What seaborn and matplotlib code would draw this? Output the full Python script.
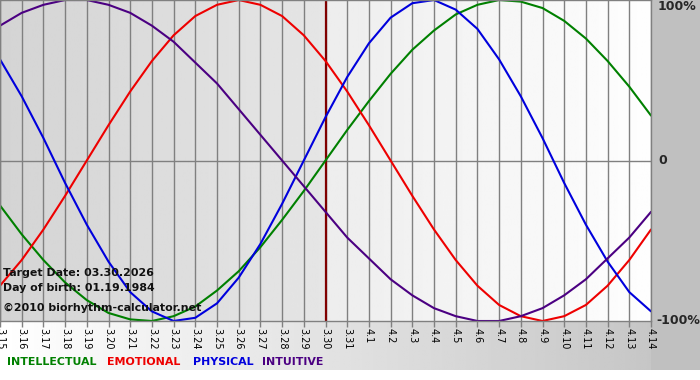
import numpy as np
import pandas as pd
import seaborn as sns
import matplotlib.pyplot as plt
import matplotlib.transforms as mtransforms

# day labels along the bottom axis
days = ["3.15", "3.16", "3.17", "3.18", "3.19", "3.20", "3.21", "3.22", "3.23", "3.24",
        "3.25", "3.26", "3.27", "3.28", "3.29", "3.30", "3.31", "4.1", "4.2", "4.3",
        "4.4", "4.5", "4.6", "4.7", "4.8", "4.9", "4.10", "4.11", "4.12", "4.13", "4.14"]

# cycle values (-1 .. 1), one per day
intellectual = [-0.28, -0.46, -0.62, -0.76, -0.87, -0.95, -0.99, -1.00, -0.97, -0.91,
                -0.81, -0.69, -0.54, -0.37, -0.19, 0.00, 0.19, 0.37, 0.54, 0.69,
                0.81, 0.91, 0.97, 1.00, 0.99, 0.95, 0.87, 0.76, 0.62, 0.46, 0.28]
emotional = [-0.78, -0.62, -0.43, -0.22, 0.00, 0.22, 0.43, 0.62, 0.78, 0.90,
             0.97, 1.00, 0.97, 0.90, 0.78, 0.62, 0.43, 0.22, 0.00, -0.22,
             -0.43, -0.62, -0.78, -0.90, -0.97, -1.00, -0.97, -0.90, -0.78, -0.62, -0.43]
physical = [0.63, 0.40, 0.14, -0.14, -0.40, -0.63, -0.82, -0.94, -1.00, -0.98,
            -0.89, -0.73, -0.52, -0.27, 0.00, 0.27, 0.52, 0.73, 0.89, 0.98,
            1.00, 0.94, 0.82, 0.63, 0.40, 0.14, -0.14, -0.40, -0.63, -0.82, -0.94]
intuitive = [0.84, 0.92, 0.97, 1.00, 1.00, 0.97, 0.92, 0.84, 0.74, 0.61,
             0.48, 0.32, 0.16, 0.00, -0.16, -0.32, -0.48, -0.61, -0.74, -0.84,
             -0.92, -0.97, -1.00, -1.00, -0.97, -0.92, -0.84, -0.74, -0.61, -0.48, -0.32]

cycle_names = ["INTELLECTUAL", "EMOTIONAL", "PHYSICAL", "INTUITIVE"]
cycle_colors = ["#008000", "#ee0000", "#0000dd", "#4b0082"]
target_day = "3.30"
info_lines = ["Target Date: 03.30.2026", "Day of birth: 01.19.1984"]
copyright_text = "\u00a92010 biorhythm-calculator.net"

sns.set_style("white")
plt.rcParams['font.family'] = ['DejaVu Sans']

df = pd.DataFrame({
    "day": list(range(len(days))) * 4,
    "value": intellectual + emotional + physical + intuitive,
    "cycle": [n for n in cycle_names for _ in days],
})

W, H = 700, 380
fig = plt.figure(figsize=(7, 3.8), dpi=100)
fig.patch.set_facecolor("white")

# page background (bottom strip gradient + right margin)
bg = fig.add_axes([0, 0, 1, 1])
bg.set_xlim(0, W)
bg.set_ylim(H, 0)
bg.axis("off")
bg.imshow(np.linspace(1.0, 0.76, 256)[None, :], cmap="gray", vmin=0, vmax=1,
          extent=[0, W, 370, 320], aspect="auto")
bg.add_patch(plt.Rectangle((651, 0), W - 651, 370, color="#c0c0c0", lw=0))

ax = fig.add_axes([0, 1 - 321 / H, 651 / W, 321 / H])
n = len(days)
t = days.index(target_day)
ax.set_xlim(0, n - 1)
ax.set_ylim(-1, 1)

# plot area shading: darker before the target day, lighter after
ax.imshow(np.linspace(0.83, 0.90, 256)[None, :], cmap="gray", vmin=0, vmax=1,
          extent=[0, t, -1, 1], aspect="auto", zorder=0)
ax.imshow(np.linspace(0.93, 0.995, 256)[None, :], cmap="gray", vmin=0, vmax=1,
          extent=[t, n - 1, -1, 1], aspect="auto", zorder=0)

ax.set_axisbelow(True)
ax.grid(axis="x", color="#808080", lw=1.0)
ax.axhline(0, color="#808080", lw=1.0, zorder=0.6)
ax.axvline(t, color="#800000", lw=1.6, zorder=1.5)

sns.lineplot(data=df, x="day", y="value", hue="cycle", hue_order=cycle_names,
             palette=cycle_colors, legend=False, ax=ax, lw=1.5, zorder=2)

ax.set_xticks(range(n))
ax.set_xticklabels(days, rotation=270, fontsize=7, color="black")
ax.tick_params(axis="x", length=4, width=1, color="#808080", pad=1, bottom=True)
ax.set_yticks([])
ax.set_xlabel("")
ax.set_ylabel("")
for s in ax.spines.values():
    s.set_color("#808080")
    s.set_linewidth(1)

# right-hand percentage labels
tr = mtransforms.blended_transform_factory(ax.transAxes, ax.transData)
ax.text(1.01, 1.0, "100%", transform=tr, ha="left", va="top", fontsize=9,
        fontweight="bold", clip_on=False)
ax.text(1.012, 0, "0", transform=tr, ha="left", va="center", fontsize=9,
        fontweight="bold", clip_on=False)
ax.text(1.008, -1, "-100%", transform=tr, ha="left", va="center", fontsize=9,
        fontweight="bold", clip_on=False)

# info block
for i, line in enumerate(info_lines):
    fig.text(3 / W, 1 - (276 + 15 * i) / H, line, fontsize=7.9, fontweight="bold",
             color="#111111", va="baseline", zorder=5)
fig.text(3 / W, 1 - 311 / H, copyright_text, fontsize=7.9, fontweight="bold",
         color="#111111", va="baseline", zorder=5)

# coloured legend words
legend_x = [7, 107, 193, 262]
for name, col, x in zip(cycle_names, cycle_colors, legend_x):
    fig.text(x / W, 1 - 362 / H, name, color=col, fontsize=7.9, fontweight="bold",
             va="center", ha="left")

fig.savefig("out.png", dpi=100)
